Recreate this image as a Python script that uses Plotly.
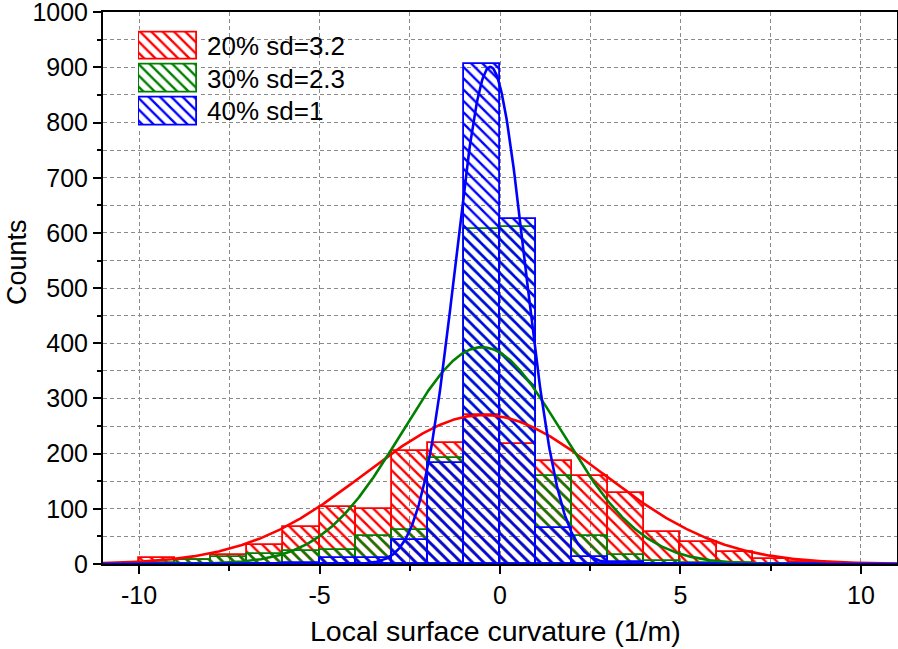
import numpy as np
import plotly.graph_objects as go

# ---- data ----
bin_centers = [-9.5, -8.5, -7.5, -6.5, -5.5, -4.5, -3.5, -2.5, -1.5, -0.5,
               0.5, 1.5, 2.5, 3.5, 4.5, 5.5, 6.5, 7.5, 8.5, 9.5]
counts_20 = [10, 7, 16, 35, 67, 104, 99, 205, 220, 270,
             218, 187, 160, 129, 58, 39, 21, 9, 3, 0]
counts_30 = [2, 8, 13, 18, 23, 25, 51, 62, 193, 608,
             611, 160, 50, 16, 5, 2, 1, 0, 0, 0]
counts_40 = [0, 0, 0, 0, 1, 10, 10, 43, 183, 906,
             625, 65, 12, 3, 0, 0, 0, 0, 0, 0]

series_names = ["20% sd=3.2", "30% sd=2.3", "40% sd=1"]
series_colors = ["#FF0000", "#008000", "#0000FF"]
# fitted normal curves: peak height, mean, standard deviation
fit_peak = [270, 393, 901]
fit_mean = [-0.45, -0.5, -0.27]
fit_sd = [3.3, 2.22, 0.96]

x_ticks = [-10, -5, 0, 5, 10]
y_ticks = [0, 100, 200, 300, 400, 500, 600, 700, 800, 900, 1000]

FONT = "Liberation Sans, Arial, sans-serif"
W, H = 898, 649
ML, MR, MT, MB = 103, 1, 12, 85
PW, PH = W - ML - MR, H - MT - MB


def px_x(p):
    return (p - ML) / PW


def px_y(p):
    return (H - MB - p) / PH


HATCH = dict(shape="\\", bgcolor="rgba(0,0,0,0)", size=8, solidity=0.3,
             fillmode="replace")

fig = go.Figure()

all_counts = [counts_20, counts_30, counts_40]
for name, col, cnt in zip(series_names, series_colors, all_counts):
    fig.add_trace(go.Bar(
        x=bin_centers, y=cnt, width=1.0, name=name,
        marker=dict(color="rgba(0,0,0,0)",
                    line=dict(color=col, width=1.8),
                    pattern=dict(fgcolor=col, **HATCH)),
        showlegend=False, xaxis="x", yaxis="y"))

xs = np.linspace(-11, 11, 881)
for col, a, m, s in zip(series_colors, fit_peak, fit_mean, fit_sd):
    fig.add_trace(go.Scatter(
        x=xs, y=a * np.exp(-(xs - m) ** 2 / (2 * s ** 2)), mode="lines",
        line=dict(color=col, width=2.6), showlegend=False, hoverinfo="skip",
        xaxis="x", yaxis="y"))

# custom legend swatches on an inset axis
for i, (name, col) in enumerate(zip(series_names, series_colors)):
    fig.add_trace(go.Bar(
        x=[1], y=[i], base=0, width=0.84, orientation="h",
        marker=dict(color="rgba(0,0,0,0)",
                    line=dict(color=col, width=1.8),
                    pattern=dict(fgcolor=col, **HATCH)),
        showlegend=False, hoverinfo="skip", xaxis="x2", yaxis="y2"))

grid_col = "#8a8a8a"
fig.update_layout(
    width=W, height=H,
    margin=dict(l=ML, r=MR, t=MT, b=MB, autoexpand=False),
    paper_bgcolor="white", plot_bgcolor="white",
    barmode="overlay", bargap=0,
    font=dict(family=FONT, color="black", size=24),
    xaxis=dict(
        range=[-11, 11], tickvals=x_ticks, ticktext=[str(v) for v in x_ticks],
        showline=True, linecolor="black", linewidth=2, mirror=True,
        ticks="outside", ticklen=8, tickwidth=2, tickcolor="black",
        tickfont=dict(size=25, family=FONT), automargin=False,
        showgrid=True, gridcolor=grid_col, gridwidth=1, griddash="4px,3px",
        zeroline=False,
        minor=dict(dtick=2.5, tick0=0, ticks="outside", ticklen=5, tickwidth=1.5,
                   tickcolor="black", showgrid=True, gridcolor=grid_col,
                   gridwidth=1, griddash="4px,3px"),
    ),
    yaxis=dict(
        range=[0, 1000.4], tickvals=y_ticks, ticktext=[str(v) for v in y_ticks],
        showline=True, linecolor="black", linewidth=2, mirror=True,
        ticks="outside", ticklen=8, tickwidth=2, tickcolor="black",
        tickfont=dict(size=25, family=FONT), automargin=False,
        ticklabeloverflow="allow",
        showgrid=True, gridcolor=grid_col, gridwidth=1, griddash="4px,3px",
        zeroline=False,
        minor=dict(dtick=50, tick0=0, ticks="outside", ticklen=4, tickwidth=1.5,
                   tickcolor="black", showgrid=True, gridcolor=grid_col,
                   gridwidth=1, griddash="4px,3px"),
    ),
    xaxis2=dict(domain=[px_x(138), px_x(198)], range=[-1 / 58, 1 + 1 / 58],
                anchor="y2", visible=False, fixedrange=True),
    yaxis2=dict(domain=[px_y(127.9), px_y(29.6)], range=[2.5, -0.5],
                anchor="x2", visible=False, fixedrange=True),
    shapes=[dict(type="rect", xref="paper", yref="paper",
                 x0=px_x(125), x1=px_x(365), y0=px_y(130), y1=px_y(25),
                 fillcolor="white", line=dict(width=0), layer="between")],
    annotations=[
        dict(text="Local surface curvature (1/m)", xref="paper", yref="paper",
             x=px_x(495), y=px_y(631), xanchor="center", yanchor="middle",
             showarrow=False, font=dict(size=28.5, family=FONT)),
        dict(text="Counts", xref="paper", yref="paper",
             x=px_x(17), y=px_y(262), xanchor="center", yanchor="middle",
             textangle=-90, showarrow=False, font=dict(size=27, family=FONT)),
    ] + [
        dict(text=name, xref="paper", yref="paper", x=px_x(205), y=px_y(yc),
             xanchor="left", yanchor="middle", showarrow=False,
             font=dict(size=26, family=FONT))
        for name, yc in zip(series_names, [46, 78.75, 111.5])
    ],
)

fig.write_html(
    "out.html",
    config={"displayModeBar": False},
    post_script="document.body.style.margin='0';document.body.style.overflow='hidden';",
)
